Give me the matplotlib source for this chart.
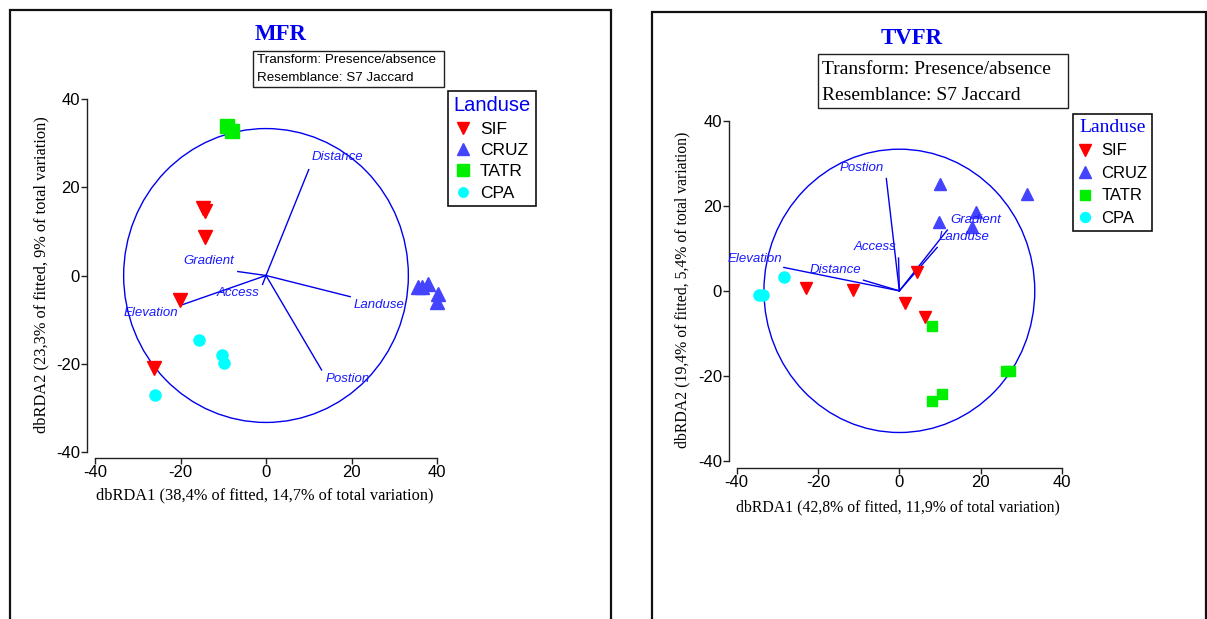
import matplotlib
matplotlib.use('Agg')
import matplotlib.pyplot as plt
from matplotlib.patches import Rectangle, Circle

plt.rcParams['axes.unicode_minus'] = False

# ---- MFR data ----
mfr_sif_x = [-14.8, -14.2, -14.3, -20.2, -26.1]
mfr_sif_y = [15.3, 14.6, 8.8, -5.5, -20.9]
mfr_cruz_x = [35.5, 36.5, 38.0, 40.2, 40.0]
mfr_cruz_y = [-2.5, -2.5, -2.0, -4.2, -5.9]
mfr_tatr_x = [-9.2, -8.0]
mfr_tatr_y = [33.8, 32.8]
mfr_cpa_x = [-15.7, -10.4, -9.9, -26.0]
mfr_cpa_y = [-14.7, -18.0, -19.9, -27.1]
mfr_vec_names = ['Distance', 'Gradient', 'Access', 'Landuse', 'Elevation', 'Postion']
mfr_vec_x = [10.0, -6.6, -0.8, 19.7, -20.1, 13.0]
mfr_vec_y = [24.0, 0.9, -2.0, -4.8, -6.8, -21.4]
mfr_lab_x = [16.6, -13.3, -6.6, 26.4, -27.0, 19.0]
mfr_lab_y = [26.8, 3.2, -3.9, -6.6, -8.6, -23.4]

# ---- TVFR data ----
tvfr_sif_x = [-23.0, -11.3, 4.4, 1.5, 6.3]
tvfr_sif_y = [0.7, 0.3, 4.5, -2.8, -6.1]
tvfr_cruz_x = [10.1, 31.3, 18.8, 9.7, 17.9]
tvfr_cruz_y = [25.1, 22.7, 18.6, 16.1, 14.9]
tvfr_tatr_x = [8.1, 27.1, 26.2, 10.5, 8.1]
tvfr_tatr_y = [-8.3, -18.8, -18.8, -24.3, -25.9]
tvfr_cpa_x = [-28.4, -34.5, -33.5]
tvfr_cpa_y = [3.3, -1.0, -1.0]
tvfr_vec_names = ['Postion', 'Access', 'Gradient', 'Landuse', 'Elevation', 'Distance']
tvfr_vec_x = [-3.2, -0.2, 11.8, 9.3, -28.4, -8.8]
tvfr_vec_y = [26.4, 7.7, 14.3, 10.2, 5.5, 2.5]
tvfr_lab_x = [-9.3, -6.0, 18.8, 16.0, -35.6, -15.7]
tvfr_lab_y = [28.8, 10.3, 16.6, 12.6, 7.6, 4.9]

ticks = [-40, -20, 0, 20, 40]

W, H = 1207, 619
SANS = 'Liberation Sans'
SERIF = 'Liberation Serif'
VEC = '#1a1aff'


def fx(p):
    return p / W


def fy(p):
    return 1 - p / H


def make_axes(fig, x0, x1, y0, y1, off_l, off_b):
    ax = fig.add_axes([fx(x0), fy(y1), (x1 - x0) / W, (y1 - y0) / H])
    ax.set_xlim(-40, 40)
    ax.set_ylim(-40, 40)
    for s in ['top', 'right']:
        ax.spines[s].set_visible(False)
    ax.spines['left'].set_position(('outward', off_l * 0.72))
    ax.spines['bottom'].set_position(('outward', off_b * 0.72))
    for s in ['left', 'bottom']:
        ax.spines[s].set_color('#222222')
        ax.spines[s].set_linewidth(1.0)
    ax.set_xticks(ticks)
    ax.set_yticks(ticks)
    ax.tick_params(direction='out', length=4, width=1, color='#222222',
                   labelsize=12, pad=1)
    for lab in ax.get_xticklabels() + ax.get_yticklabels():
        lab.set_family(SANS)
    ax.patch.set_alpha(0)
    return ax


def draw(ax, sif, cruz, tatr, cpa, sizes, vx, vy, names, lx, ly):
    ax.add_patch(Circle((0, 0), 33.3, fill=False, edgecolor='#0000ee', lw=1.0))
    for x, y in zip(vx, vy):
        ax.plot([0, x], [0, y], color='#0000ee', lw=1.0)
    for n, x, y in zip(names, lx, ly):
        ax.text(x, y, n, color=VEC, style='italic', family=SANS, fontsize=9.5,
                ha='center', va='center')
    h = []
    h += ax.plot(sif[0], sif[1], 'v', color='#ff0000', ms=sizes[0], ls='none',
                 label='SIF', clip_on=False)
    h += ax.plot(cruz[0], cruz[1], '^', color='#4444ff', ms=sizes[0], ls='none',
                 label='CRUZ', clip_on=False)
    h += ax.plot(tatr[0], tatr[1], 's', color='#00ee00', ms=sizes[1], ls='none',
                 label='TATR', clip_on=False)
    h += ax.plot(cpa[0], cpa[1], 'o', color='#00ffff', ms=sizes[2], ls='none',
                 label='CPA', clip_on=False)
    return h


fig = plt.figure(figsize=(12.07, 6.19), dpi=100)

# panel frames
fig.patches.append(Rectangle((fx(9.5), fy(640)), (610.5 - 9.5) / W, (640 - 9.5) / H,
                             transform=fig.transFigure, fill=False, ec='#111111', lw=1.6))
fig.patches.append(Rectangle((fx(651.5), fy(640)), (1206 - 651.5) / W, (640 - 12.5) / H,
                             transform=fig.transFigure, fill=False, ec='#111111', lw=1.6))

# ---- left panel: MFR ----
ax1 = make_axes(fig, 95, 437, 99, 452, 8, 6)
h1 = draw(ax1, (mfr_sif_x, mfr_sif_y), (mfr_cruz_x, mfr_cruz_y), (mfr_tatr_x, mfr_tatr_y),
          (mfr_cpa_x, mfr_cpa_y), (10, 9.4, 8), mfr_vec_x, mfr_vec_y, mfr_vec_names,
          mfr_lab_x, mfr_lab_y)
fig.text(fx(281), fy(34), 'MFR', family=SERIF, weight='bold', fontsize=16.5,
         color='#0000ee', ha='center', va='center')
fig.patches.append(Rectangle((fx(253), fy(87)), (444 - 253) / W, (87 - 51) / H,
                             transform=fig.transFigure, fill=False, ec='#222222', lw=1))
fig.text(fx(257), fy(60), 'Transform: Presence/absence', family=SANS, fontsize=9.6,
         va='center')
fig.text(fx(257), fy(78), 'Resemblance: S7 Jaccard', family=SANS, fontsize=9.6,
         va='center')
fig.text(fx(265), fy(495), 'dbRDA1 (38,4% of fitted, 14,7% of total variation)',
         family=SERIF, fontsize=11.8, ha='center', va='center')
fig.text(fx(41), fy(275), 'dbRDA2 (23,3% of fitted, 9% of total variation)',
         family=SERIF, fontsize=11.8, ha='center', va='center', rotation=90)
leg1 = ax1.legend(handles=h1, title='Landuse', loc='upper left',
                  bbox_to_anchor=(fx(448), fy(91)), bbox_transform=fig.transFigure,
                  prop={'family': SANS, 'size': 12.5}, frameon=True, fancybox=False,
                  edgecolor='#111111', framealpha=1, borderaxespad=0, borderpad=0.3,
                  handlelength=0.8, handletextpad=0.6, labelspacing=0.36, markerscale=0.85)
leg1.get_title().set_color('#0000ee')
leg1.get_title().set_fontsize(14.5)
leg1.get_title().set_family(SANS)
leg1.get_frame().set_linewidth(1.2)

# ---- right panel: TVFR ----
ax2 = make_axes(fig, 736.7, 1062, 120.7, 461, 7.7, 7)
h2 = draw(ax2, (tvfr_sif_x, tvfr_sif_y), (tvfr_cruz_x, tvfr_cruz_y), (tvfr_tatr_x, tvfr_tatr_y),
          (tvfr_cpa_x, tvfr_cpa_y), (9, 7.7, 8), tvfr_vec_x, tvfr_vec_y, tvfr_vec_names,
          tvfr_lab_x, tvfr_lab_y)
fig.text(fx(912), fy(38), 'TVFR', family=SERIF, weight='bold', fontsize=16.5,
         color='#0000ee', ha='center', va='center')
fig.patches.append(Rectangle((fx(818), fy(108)), (1068 - 818) / W, (108 - 54) / H,
                             transform=fig.transFigure, fill=False, ec='#222222', lw=1))
fig.text(fx(822), fy(69), 'Transform: Presence/absence', family=SERIF, fontsize=14,
         va='center')
fig.text(fx(822), fy(95), 'Resemblance: S7 Jaccard', family=SERIF, fontsize=14,
         va='center')
fig.text(fx(898), fy(507), 'dbRDA1 (42,8% of fitted, 11,9% of total variation)',
         family=SERIF, fontsize=11.3, ha='center', va='center')
fig.text(fx(682), fy(290), 'dbRDA2 (19,4% of fitted, 5,4% of total variation)',
         family=SERIF, fontsize=11.3, ha='center', va='center', rotation=90)
leg2 = ax2.legend(handles=h2, title='Landuse', loc='upper left',
                  bbox_to_anchor=(fx(1073), fy(114)), bbox_transform=fig.transFigure,
                  prop={'family': SANS, 'size': 12}, frameon=True, fancybox=False,
                  edgecolor='#111111', framealpha=1, borderaxespad=0, borderpad=0.3,
                  handlelength=0.8, handletextpad=0.6, labelspacing=0.45, markerscale=0.9)
leg2.get_title().set_color('#0000ee')
leg2.get_title().set_fontsize(14)
leg2.get_title().set_family(SERIF)
leg2.get_frame().set_linewidth(1.2)

fig.savefig('out.png', dpi=100)
